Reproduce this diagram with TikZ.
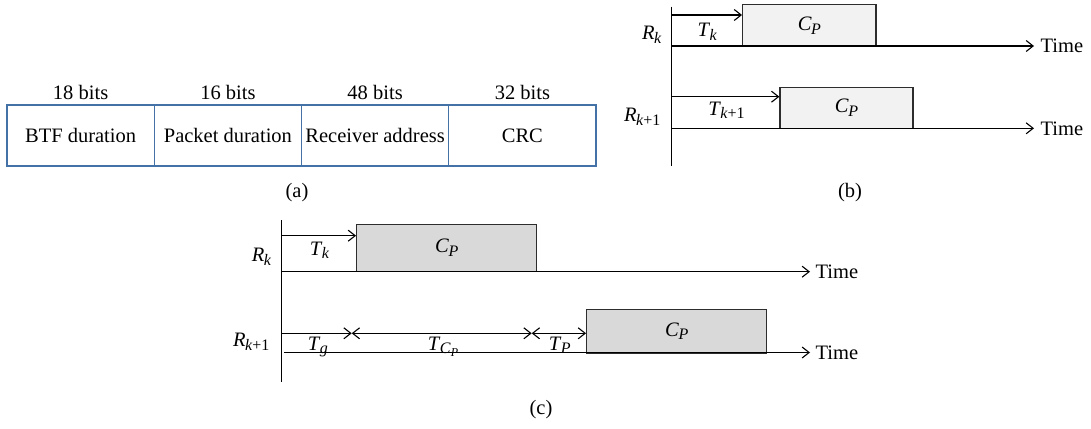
\documentclass[tikz,border=0pt]{standalone}
\usepackage{fontspec}
\setmainfont{Liberation Serif}
\usetikzlibrary{arrows.meta}
\definecolor{fieldblue}{RGB}{68,114,166}
\definecolor{lightbox}{RGB}{242,242,242}
\definecolor{graybox}{RGB}{217,217,217}
\definecolor{boxline}{RGB}{45,45,45}
\newcommand\symb[2]{\textit{#1}\kern-0.5pt\raisebox{-3.8pt}{\fontsize{16}{16}\selectfont #2}}
\newcommand\symbb[2]{\textit{#1}\raisebox{-2.8pt}{\fontsize{12}{12}\selectfont #2}}
\begin{document}
\begin{tikzpicture}[x=1pt,y=-1pt,line width=1.1pt,
  txt/.style={font=\fontsize{20.5}{24}\selectfont,inner sep=0pt},
  field/.style={txt,draw=fieldblue,line width=1.4pt,minimum width=147.25pt,minimum height=61pt},
  pktb/.style={txt,draw=boxline,fill=lightbox,line width=1.3pt},
  pktc/.style={txt,draw=boxline,fill=graybox,line width=1.3pt},
  arr/.style={-{Straight Barb[length=7pt,width=11pt]}},
  darr/.style={{Straight Barb[length=7pt,width=11pt]}-{Straight Barb[length=7pt,width=11pt]}}]
\useasboundingbox (0,0) rectangle (1091,428);

% ---------- (a) ----------
\node[field] (f1) at (80.6,135.5) {BTF duration};
\node[field] (f2) at (227.9,135.5) {Packet duration};
\node[field] (f3) at (375.1,135.5) {Receiver address};
\node[field] (f4) at (522.4,135.5) {CRC};
\node[txt] (n1) at (80.6,92) {18 bits};
\node[txt] (n2) at (227.9,92) {16 bits};
\node[txt] (n3) at (375.1,92) {48 bits};
\node[txt] (n4) at (522.4,92) {32 bits};
\node[txt] (capa) at (297,193) {(a)};

% ---------- (b) ----------
\coordinate (bTop) at (671.7,6.7);
\coordinate (bBot) at (671.7,166);
\draw (bTop) -- (bBot);
\node[pktb,minimum width=133.3pt,minimum height=41.3pt] (bP1) at (809.35,25.35) {\symb{C}{\textit{P}}};
\node[pktb,minimum width=133pt,minimum height=41pt] (bP2) at (846.5,107.8) {\symb{C}{\textit{P}}};
\coordinate (bA1) at (671.7,15);
\coordinate (bL1) at (671.7,46);
\coordinate (bE1) at (1034,46);
\coordinate (bA2) at (671.7,96.7);
\coordinate (bL2) at (671.7,128.3);
\coordinate (bE2) at (1034,128.3);
\draw[arr] (bA1) -- (bA1 -| bP1.west);
\draw[arr] (bL1) -- (bE1);
\draw[arr] (bA2) -- (bA2 -| bP2.west);
\draw[arr] (bL2) -- (bE2);
\node[txt,anchor=west] (bTime1) at (1040,46.3) {Time};
\node[txt,anchor=west] (bTime2) at (1040,128.6) {Time};
\node[txt,anchor=base east] (bRk) at (662,39.5) {\symb{R}{\textit{k}}};
\node[txt,anchor=base east] (bRk1) at (661,121.7) {\symb{R}{\textit{k}+1}};
\node[txt,anchor=base west] (bTk) at (697,36.7) {\symb{T}{\textit{k}}};
\node[txt,anchor=base west] (bTk1) at (707.7,115) {\symb{T}{\textit{k}+1}};
\node[txt] (capb) at (850,193) {(b)};

% ---------- (c) ----------
\coordinate (cTop) at (281.7,220);
\coordinate (cBot) at (281.7,381.7);
\draw (cTop) -- (cBot);
\node[pktc,minimum width=180pt,minimum height=47.4pt] (cP1) at (446.7,248) {\symb{C}{\textit{P}}};
\node[pktc,minimum width=180pt,minimum height=43.4pt] (cP2) at (676.7,331.2) {\symb{C}{\textit{P}}};
\coordinate (cA1) at (281.7,235.7);
\coordinate (cL1) at (281.7,271.7);
\coordinate (cE1) at (810,271.7);
\draw[arr] (cA1) -- (cA1 -| cP1.west);
\draw[arr] (cL1) -- (cE1);
\coordinate (cA2) at (281.7,333.3);
\coordinate (cG) at (351.7,333.3);
\coordinate (cC) at (531.7,333.3);
\coordinate (cL2) at (284,352.5);
\coordinate (cE2) at (810,352.5);
\draw[arr] (cA2) -- (cG);
\draw[darr] (cG) -- (cC);
\draw[darr] (cC) -- (cC -| cP2.west);
\draw[arr] (cL2) -- (cE2);
\node[txt,anchor=west] (cTime1) at (815,272) {Time};
\node[txt,anchor=west] (cTime2) at (815,352.8) {Time};
\node[txt,anchor=base east] (cRk) at (271.7,261.7) {\symb{R}{\textit{k}}};
\node[txt,anchor=base east] (cRk1) at (270,346.7) {\symb{R}{\textit{k}+1}};
\node[txt,anchor=base west] (cTk) at (309.3,255) {\symb{T}{\textit{k}}};
\node[txt,anchor=base west] (cTg) at (307.3,350) {\symb{T}{\textit{g}}};
\node[txt,anchor=base west] (cTc) at (427.3,350) {\symb{T}{\symbb{C}{\textit{P}}}};
\node[txt,anchor=base west] (cTp) at (548.3,350) {\symb{T}{\textit{P}}};
\node[txt] (capc) at (541,410) {(c)};
\end{tikzpicture}
\end{document}
